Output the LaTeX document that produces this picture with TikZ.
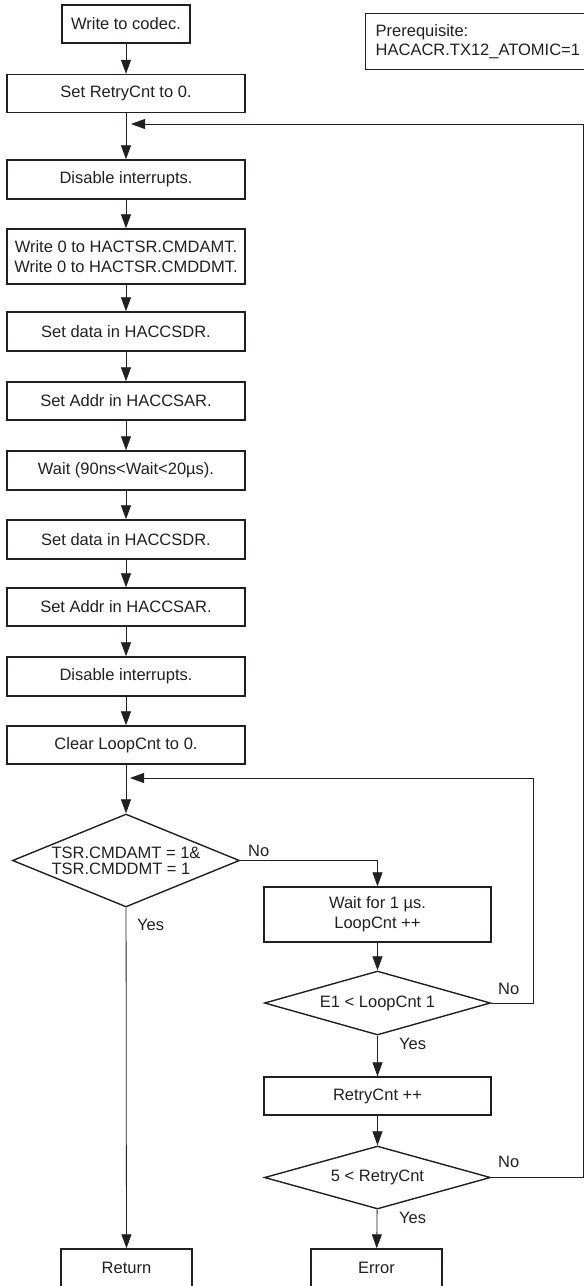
\documentclass[tikz,border=0pt]{standalone}
\usepackage{fontspec}
\setmainfont{Liberation Sans}
\usetikzlibrary{shapes.geometric,arrows.meta}

\definecolor{linie}{RGB}{35,31,32}

\tikzset{
    kasten/.style={draw=linie, line width=1.4pt, inner sep=0pt, minimum height=38pt,
        align=center, text=linie, font=\fontsize{16.5}{20}\selectfont},
    breit/.style={kasten, minimum width=238pt},
    mittel/.style={kasten, minimum width=227pt},
    klein/.style={kasten, minimum width=131pt},
    raute/.style={diamond, draw=linie, line width=1.4pt, inner sep=0pt,
        text=linie, font=\fontsize{16.5}{16}\selectfont},
    pfeil/.style={draw=linie, line width=0.8pt, -{Triangle[length=14pt,width=10pt]}},
    antwort/.style={anchor=base west, inner sep=0pt, text=linie, font=\fontsize{16.5}{20}\selectfont}
}

\begin{document}
\begin{tikzpicture}[x=1pt, y=-1pt]
        \useasboundingbox (0,0) rectangle (584,1286);

        % Hauptspalte
        \node[kasten, minimum width=128pt] (write) at (126,24) {Write to codec.};
        \node[breit] (setretry) at (126,93.5) {Set RetryCnt to 0.};
        \node[breit, minimum height=39pt] (dis1) at (126,179.5) {Disable interrupts.};
        \node[breit, minimum height=55pt] (write0) at (126,256.5) {Write 0 to HACTSR.CMDAMT.\\Write 0 to HACTSR.CMDDMT.};
        \node[breit, minimum height=39pt] (data1) at (126,331.5) {Set data in HACCSDR.};
        \node[breit] (addr1) at (126,401) {Set Addr in HACCSAR.};
        \node[breit, minimum height=39pt] (wait) at (126,470.5) {Wait (90ns<Wait<20µs).};
        \node[breit, minimum height=39pt] (data2) at (126,539.5) {Set data in HACCSDR.};
        \node[breit] (addr2) at (126,607) {Set Addr in HACCSAR.};
        \node[breit, minimum height=39pt] (dis2) at (126,676.5) {Disable interrupts.};
        \node[breit] (clear) at (126,745) {Clear LoopCnt to 0.};
        \node[raute, aspect=2.44, minimum width=227pt, minimum height=93pt, align=left] (tsr) at (126,860.5)
            {TSR.CMDAMT = 1\&\\TSR.CMDDMT = 1};
        \node[klein] (return) at (126.5,1268) {Return};

        % Rechte Spalte
        \node[mittel, minimum height=55pt] (waitus) at (377.5,914.5) {Wait for 1 µs.\\LoopCnt ++};
        \node[raute, aspect=3.5, minimum width=226pt, minimum height=64pt] (loopchk) at (377.5,1003) {E1 < LoopCnt 1};
        \node[mittel] (retry) at (377.5,1096) {RetryCnt ++};
        \node[raute, aspect=3.5, minimum width=226pt, minimum height=63pt] (retrychk) at (377.5,1177.5) {5 < RetryCnt};
        \node[klein] (error) at (376.5,1268) {Error};

        % Voraussetzung
        \node[kasten, anchor=north west, text width=220pt, align=left, inner xsep=10pt,
            minimum height=56pt, font=\fontsize{16.5}{19}\selectfont] (prereq) at (365,13)
            {Prerequisite:\\HACACR.TX12\_ATOMIC=1};

        % Pfeile
        \foreach \a/\b in {write/setretry, setretry/dis1, dis1/write0, write0/data1, data1/addr1,
                addr1/wait, wait/data2, data2/addr2, addr2/dis2, dis2/clear, clear/tsr,
                tsr/return, waitus/loopchk, loopchk/retry, retry/retrychk, retrychk/error} {
                \draw[pfeil] (\a) -- (\b);
            }
        \draw[pfeil] (tsr.east) -| (waitus.north);

        % Ruecksprung LoopCnt
        \coordinate (loopecke) at (533,778);
        \coordinate (loopein) at (130,778);
        \draw[pfeil] (loopchk.east) -| (loopecke) -- (loopein);

        % Ruecksprung RetryCnt
        \coordinate (retryecke) at (583,124);
        \coordinate (retryein) at (131,124);
        \draw[pfeil] (retrychk.east) -| (retryecke) -- (retryein);

        % Ja/Nein
        \node[antwort] (no1) at (248,856) {No};
        \node[antwort] (yes1) at (137,930) {Yes};
        \node[antwort] (no2) at (498,994) {No};
        \node[antwort] (yes2) at (399,1049) {Yes};
        \node[antwort] (no3) at (498,1167) {No};
        \node[antwort] (yes3) at (399,1223) {Yes};

    \end{tikzpicture}
\end{document}
